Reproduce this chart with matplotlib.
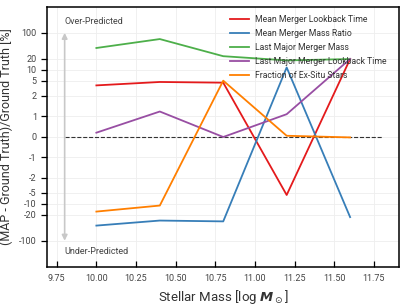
import numpy as np
import matplotlib
matplotlib.use('Agg')
import matplotlib.pyplot as plt

# --- data ---
stellar_mass = [10.0, 10.4, 10.8, 11.2, 11.6]
mean_merger_lookback = [3.8, 4.7, 4.5, -5.8, 19.6]
mean_merger_mass_ratio = [-39, -28.5, -30, 11.6, -23]
last_major_merger_mass = [39, 68, 23.4, 18, 19.6]
last_major_merger_lookback = [0.2, 1.23, -0.01, 1.1, 19.7]
frac_ex_situ = [-16.3, -11.2, 5.1, 0.05, -0.03]

series_labels = ['Mean Merger Lookback Time', 'Mean Merger Mass Ratio',
                 'Last Major Merger Mass', 'Last Major Merger Lookback Time',
                 'Fraction of Ex-Situ Stars']
series_colors = ['#e41a1c', '#377eb8', '#4daf4a', '#984ea3', '#ff7f00']
yticks = [-100, -20, -10, -5, -2, -1, 0, 1, 2, 5, 10, 20, 100]

plt.rcParams['font.family'] = ['Roboto', 'DejaVu Sans']
plt.rcParams['mathtext.fontset'] = 'dejavusans'

fig = plt.figure(figsize=(4.07, 3.05), dpi=100)
ax = fig.add_axes([0.116, 0.126, 0.865, 0.851])

all_series = [mean_merger_lookback, mean_merger_mass_ratio, last_major_merger_mass,
              last_major_merger_lookback, frac_ex_situ]
for vals, lab, col in zip(all_series, series_labels, series_colors):
    ax.plot(stellar_mass, vals, color=col, lw=1.3, label=lab, zorder=3)

ax.set_yscale('symlog', linthresh=2, linscale=1)
ax.set_ylim(-500, 500)
ax.set_xlim(9.69, 11.91)
ax.set_yticks(yticks)
ax.set_yticklabels([str(t) for t in yticks])
ax.yaxis.set_minor_locator(matplotlib.ticker.NullLocator())
ax.set_xticks(np.arange(9.75, 11.76, 0.25))
ax.set_xticklabels(['%.2f' % t for t in np.arange(9.75, 11.76, 0.25)])

ax.grid(True, color='#eeeeee', lw=0.6, zorder=0)
ax.set_axisbelow(True)

ax.hlines(0, 9.8, 11.8, colors='#333333', linestyles='--', lw=0.8, zorder=2)
ax.annotate('', xy=(9.8, 100), xytext=(9.8, -100),
            arrowprops=dict(arrowstyle='<|-|>', color='#c8c8c8', lw=1.2,
                            mutation_scale=8, shrinkA=0, shrinkB=0))
ax.text(9.8, 200, 'Over-Predicted', fontsize=6.5, color='#444444', ha='left', va='center')
ax.text(9.8, -200, 'Under-Predicted', fontsize=6.5, color='#444444', ha='left', va='center')

for s in ax.spines.values():
    s.set_linewidth(1.1)
ax.tick_params(axis='x', direction='in', length=4, width=0.9, labelsize=6.5,
               labelcolor='#444444', pad=5)
ax.tick_params(axis='y', direction='out', length=4, width=0.9, labelsize=6.5,
               labelcolor='#444444')

ax.set_xlabel(r'Stellar Mass [log $\boldsymbol{M}_\odot$]', fontsize=9.5, color='#333333')
ax.set_ylabel('(MAP - Ground Truth)/Ground Truth [%]', fontsize=9, color='#333333')

ax.legend(loc='upper right', frameon=False, fontsize=6.2, handlelength=2.3,
          handletextpad=0.6, labelspacing=0.6, borderaxespad=0.5,
          bbox_to_anchor=(0.985, 1.0), labelcolor='#333333')

fig.savefig('out.png', dpi=100)
